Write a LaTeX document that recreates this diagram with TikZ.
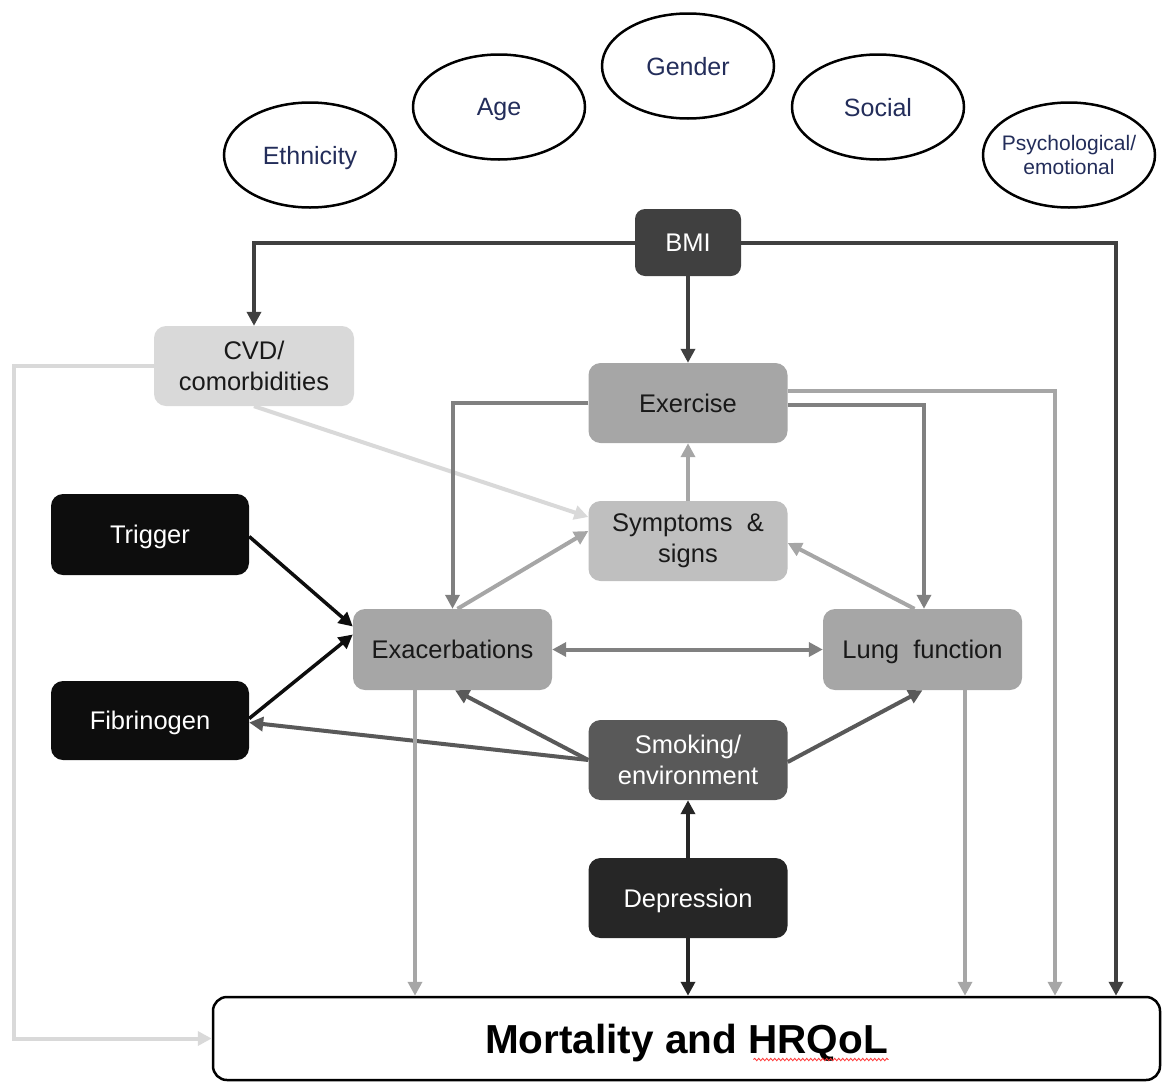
\documentclass[tikz,border=0pt]{standalone}
\usepackage{fontspec}
\setmainfont{Liberation Sans}
\usetikzlibrary{arrows.meta,shapes.geometric,decorations.pathmorphing}
\definecolor{cdark}{HTML}{404040}
\definecolor{ccvd}{HTML}{D9D9D9}
\definecolor{cmid}{HTML}{A6A6A6}
\definecolor{csym}{HTML}{BFBFBF}
\definecolor{cline}{HTML}{808080}
\definecolor{csmok}{HTML}{595959}
\definecolor{cdep}{HTML}{262626}
\definecolor{cblk}{HTML}{0D0D0D}
\definecolor{cnavy}{RGB}{35,45,90}
\begin{document}
\begin{tikzpicture}[x=1pt,y=-1pt,
  oval/.style={ellipse,draw=black,line width=2.5pt,fill=white,inner sep=0pt,
    minimum width=172pt,minimum height=105pt,text=cnavy,font=\fontsize{25}{29}\selectfont,align=center},
  rbox/.style={rounded corners=12pt,inner sep=0pt,minimum width=199pt,minimum height=80pt,
    align=center,font=\fontsize{25.5}{31}\selectfont},
  lightbox/.style={rbox,text=black!90},
  darkbox/.style={rbox,text=white},
  oneline/.style={text depth=0pt},
  conn/.style={line width=4pt,-{Triangle[length=14pt,width=14pt]}},
  dconn/.style={line width=4pt,{Triangle[length=14pt,width=14pt]}-{Triangle[length=14pt,width=14pt]}}
]
\useasboundingbox (0,0) rectangle (1162,1082);
% ellipses
\node[oval,oneline] (eth) at (310,155) {Ethnicity};
\node[oval,oneline] (age) at (499,107) {Age};
\node[oval,oneline] (gen) at (688,66) {Gender};
\node[oval,oneline] (soc) at (878,107) {Social};
\node[oval,inner xsep=-20pt,inner ysep=-6pt,font=\fontsize{21}{24}\selectfont] (psy) at (1069,155) {Psychological/\\emotional};
% boxes
\node[darkbox,oneline,fill=cdark,minimum width=106pt,minimum height=67pt,rounded corners=10pt] (bmi) at (688,242.5) {BMI};
\node[lightbox,fill=ccvd,minimum width=200pt] (cvd) at (254,366) {CVD/\\comorbidities};
\node[lightbox,oneline,fill=cmid] (exer) at (688,403) {Exercise};
\node[lightbox,fill=csym] (sym) at (688,541) {Symptoms \ \&\\signs};
\node[darkbox,oneline,fill=cblk,minimum width=198pt,minimum height=81pt] (trig) at (150,534.5) {Trigger};
\node[darkbox,oneline,fill=cblk,minimum width=198pt,minimum height=79pt] (fib) at (150,720.5) {Fibrinogen};
\node[lightbox,oneline,fill=cmid,minimum height=81pt] (exa) at (452.5,649.5) {Exacerbations};
\node[lightbox,oneline,fill=cmid,minimum height=81pt] (lung) at (922.5,649.5) {Lung \ function};
\node[darkbox,fill=csmok] (smok) at (688,760) {Smoking/\\environment};
\node[darkbox,oneline,fill=cdep] (dep) at (688,898) {Depression};
\node[rounded corners=14pt,draw=black,line width=2.5pt,fill=white,minimum width=947pt,minimum height=83pt,
  inner sep=0pt,oneline,font=\fontsize{40.5}{44}\selectfont\bfseries] (mort) at (686.5,1038.5) {Mortality and HRQoL};
\draw[red!80,line width=0.8pt,decorate,decoration={snake,amplitude=1.2pt,segment length=4pt}]
  ([xshift=67pt,yshift=-21pt]mort.center) -- ([xshift=202pt,yshift=-21pt]mort.center);
% connectors from BMI
\draw[conn,cdark] (bmi.west) -| (cvd.north);
\draw[conn,cdark] (bmi.south) -- (exer.north);
\draw[conn,cdark] (bmi.east) -| ([xshift=429.5pt]mort.north);
% CVD
\draw[conn,ccvd] (cvd.west) -- ++(-140,0) |- (mort.west);
\draw[conn,ccvd] (cvd.south) -- ([yshift=24pt]sym.west);
% Exercise
\draw[conn,cline] (exer.west) -| (exa.north);
\draw[conn,cline] ([yshift=-2pt]exer.east) -| ([xshift=1.5pt]lung.north);
\draw[conn,cmid] ([yshift=12pt]exer.east) -| ([xshift=368.5pt]mort.north);
% Symptoms
\draw[conn,cmid] (sym.north) -- (exer.south);
\draw[conn,cmid] ([xshift=5pt]exa.north) -- ([yshift=10pt]sym.west);
\draw[conn,cmid] ([xshift=-8pt]lung.north) -- ([yshift=-2pt]sym.east);
% Exa <-> Lung
\draw[dconn,cline] (exa.east) -- (lung.west);
% Trigger / Fibrinogen
\draw[conn,cblk,line width=3.5pt] ([yshift=-2pt]trig.east) -- ([yshift=23pt]exa.west);
\draw[conn,cblk,line width=3.5pt] ([yshift=2pt]fib.east) -- ([yshift=15pt]exa.west);
% Smoking
\draw[conn,csmok] (smok.west) -- ([yshift=-2pt]fib.east);
\draw[conn,csmok] (smok.west) -- ([xshift=2.5pt]exa.south);
\draw[conn,csmok] ([yshift=-2pt]smok.east) -- (lung.south);
% Depression
\draw[conn,cdep] (dep.north) -- (smok.south);
\draw[conn,cdep] (dep.south) -- (dep.south |- mort.north);
% to mortality
\draw[conn,cmid] ([xshift=-37.5pt]exa.south) -- ([xshift=-37.5pt]exa.south |- mort.north);
\draw[conn,cmid] ([xshift=42.5pt]lung.south) -- ([xshift=42.5pt]lung.south |- mort.north);
\end{tikzpicture}
\end{document}
